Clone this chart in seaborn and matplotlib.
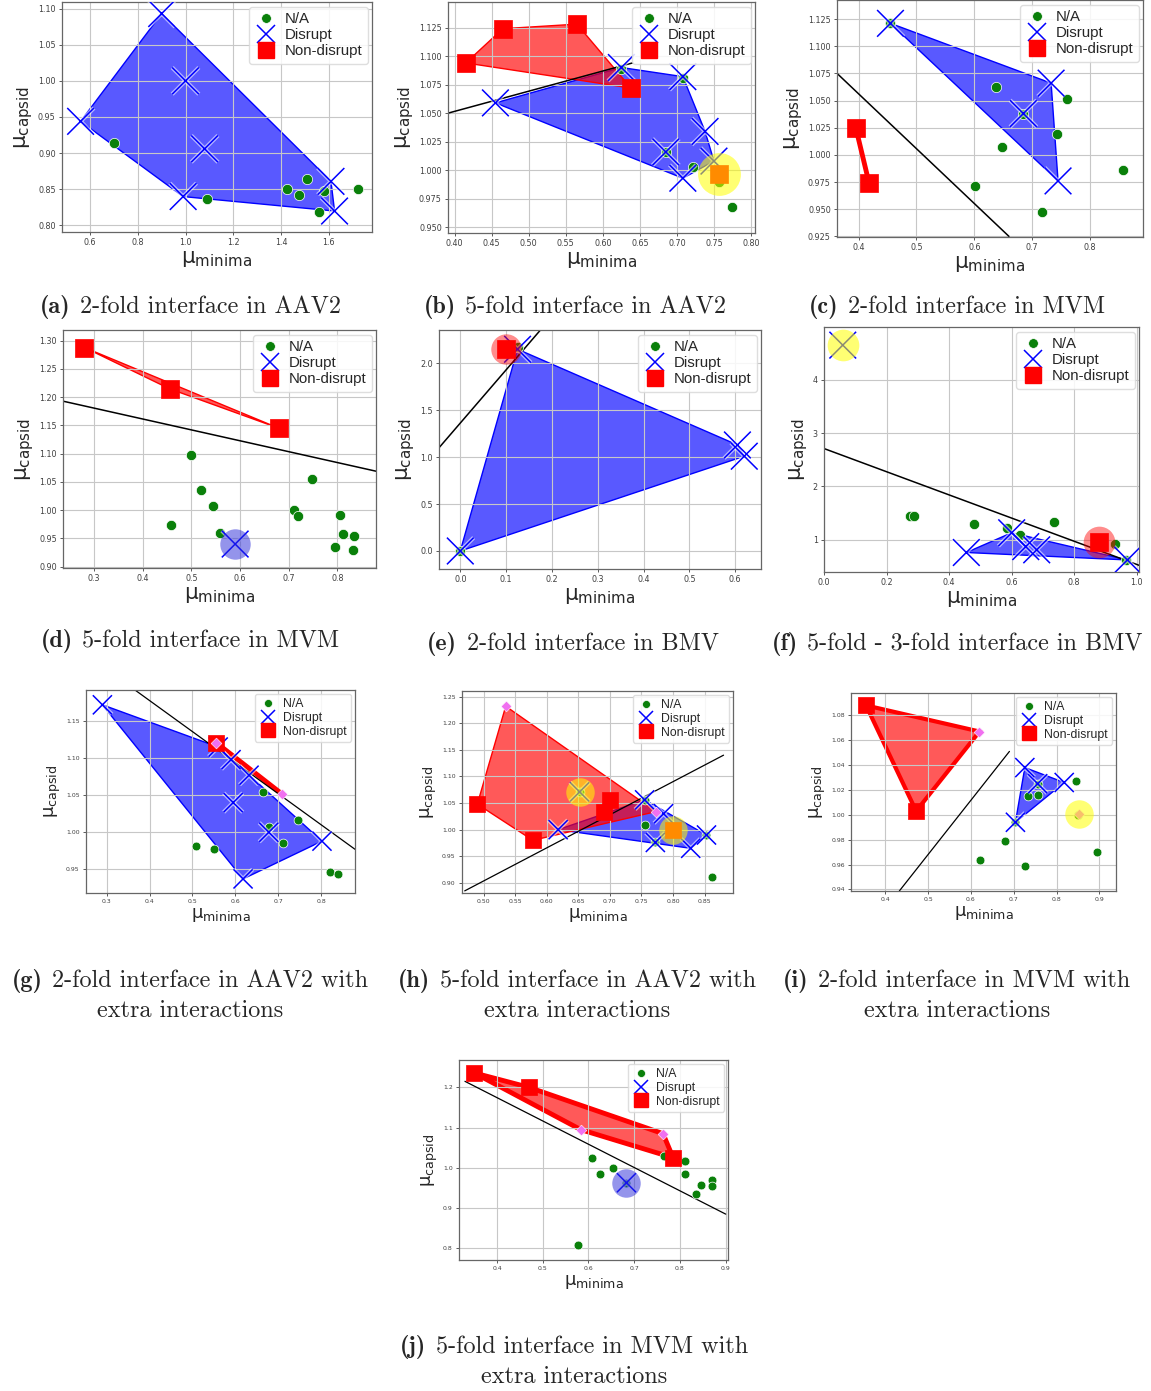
import numpy as np
import matplotlib
matplotlib.use("Agg")
import matplotlib.pyplot as plt
import matplotlib.patheffects as pe
from matplotlib.colors import to_rgba
from matplotlib.lines import Line2D
from matplotlib.ticker import FormatStrFormatter
import seaborn as sns

W, H = 1151, 1391

# ------------------------------------------------------------------
# values
# *_NA: N/A points, *_DIS: Disrupt, *_NON: Non-disrupt,
# *_EXT: extra interactions (diamonds, part of the non-disrupt hull),
# *_HL: highlighted points (kind, x, y, tone), *_SEP: separating line ends
# ------------------------------------------------------------------
A_NA = [(0.70, 0.914), (1.09, 0.837), (1.425, 0.851), (1.475, 0.842), (1.51, 0.864),
        (1.58, 0.847), (1.56, 0.818), (1.725, 0.851)]
A_DIS = [(0.90, 1.093), (0.56, 0.944), (0.99, 0.840), (1.625, 0.820), (1.61, 0.861),
         (1.00, 1.000), (1.08, 0.906)]
A_NON = []
A_EXT = []
A_HL = []
A_SEP = []

B_NA = [(0.625, 1.089), (0.708, 1.081), (0.685, 1.016), (0.722, 1.003), (0.757, 0.990),
        (0.775, 0.968)]
B_DIS = [(0.455, 1.059), (0.625, 1.090), (0.708, 1.082), (0.738, 1.034), (0.685, 1.016),
         (0.708, 0.993), (0.750, 1.008)]
B_NON = [(0.415, 1.094), (0.465, 1.124), (0.565, 1.128), (0.638, 1.072)]
B_EXT = []
B_HL = [("non", 0.757, 0.997, "yellow")]
B_SEP = [(0.391, 1.050), (0.640, 1.094)]

C_NA = [(0.455, 1.121), (0.637, 1.062), (0.685, 1.038), (0.761, 1.051), (0.744, 1.019),
        (0.648, 1.007), (0.602, 0.971), (0.718, 0.947), (0.858, 0.986)]
C_DIS = [(0.455, 1.121), (0.733, 1.066), (0.745, 0.976), (0.685, 1.038)]
C_NON = [(0.395, 1.025), (0.418, 0.974)]
C_EXT = []
C_HL = []
C_SEP = [(0.3625, 1.075), (0.660, 0.925)]

D_NA = [(0.500, 1.097), (0.520, 1.036), (0.545, 1.008), (0.458, 0.973), (0.558, 0.960),
        (0.712, 1.001), (0.720, 0.990), (0.747, 1.055), (0.805, 0.992), (0.812, 0.958),
        (0.835, 0.955), (0.795, 0.935), (0.832, 0.930)]
D_DIS = []
D_NON = [(0.280, 1.288), (0.455, 1.215), (0.680, 1.145)]
D_EXT = []
D_HL = [("dis", 0.590, 0.940, "blue")]
D_SEP = [(0.236, 1.193), (0.8796, 1.069)]

E_NA = [(0.0, 0.0), (0.125, 2.17)]
E_DIS = [(0.0, 0.0), (0.125, 2.15), (0.605, 1.13), (0.620, 1.01)]
E_NON = []
E_EXT = []
E_HL = [("non", 0.100, 2.15, "red")]
E_SEP = [(-0.0465, 1.10), (0.175, 2.355)]

F_NA = [(0.275, 1.45), (0.288, 1.45), (0.480, 1.29), (0.585, 1.22), (0.625, 1.09),
        (0.735, 1.33), (0.930, 0.91), (0.965, 0.62)]
F_DIS = [(0.455, 0.76), (0.600, 1.13), (0.645, 0.87), (0.680, 0.81), (0.970, 0.62)]
F_NON = []
F_EXT = []
F_HL = [("dis", 0.060, 4.65, "yellow"), ("non", 0.880, 0.96, "red")]
F_SEP = [(0.0, 2.71), (1.007, 0.52)]

G_NA = [(0.508, 0.982), (0.551, 0.978), (0.664, 1.054), (0.678, 1.007), (0.710, 0.985),
        (0.747, 1.016), (0.820, 0.947), (0.840, 0.944)]
G_DIS = [(0.290, 1.172), (0.618, 0.937), (0.802, 0.988), (0.560, 1.115), (0.590, 1.098),
         (0.632, 1.077), (0.595, 1.040), (0.678, 1.000)]
G_NON = [(0.555, 1.121)]
G_EXT = [(0.555, 1.121), (0.708, 1.052)]
G_HL = []
G_SEP = [(0.366, 1.192), (0.879, 0.977)]

H_NA = [(0.652, 1.071), (0.755, 1.056), (0.756, 1.008), (0.772, 0.976), (0.853, 0.990),
        (0.862, 0.911)]
H_DIS = [(0.618, 1.000), (0.755, 1.056), (0.785, 1.030), (0.772, 0.976), (0.828, 0.965),
         (0.853, 0.990)]
H_NON = [(0.490, 1.048), (0.578, 0.980), (0.690, 1.033), (0.700, 1.055)]
H_EXT = [(0.535, 1.232), (0.773, 1.034)]
H_HL = [("dis", 0.652, 1.071, "yellow"), ("non", 0.800, 1.000, "yellow")]
H_SEP = [(0.470, 0.885), (0.880, 1.140)]

I_NA = [(0.622, 0.964), (0.679, 0.979), (0.727, 0.959), (0.704, 0.994), (0.734, 1.015),
        (0.757, 1.016), (0.756, 1.025), (0.845, 1.027), (0.895, 0.970), (0.850, 1.000)]
I_DIS = [(0.726, 1.038), (0.818, 1.026), (0.704, 0.994), (0.756, 1.025)]
I_NON = [(0.355, 1.088), (0.472, 1.003)]
I_EXT = [(0.620, 1.067)]
I_HL = [("ext", 0.852, 1.001, "yellow")]
I_SEP = [(0.4327, 0.9387), (0.690, 1.051)]

J_NA = [(0.577, 0.808), (0.608, 1.025), (0.625, 0.985), (0.653, 1.000), (0.683, 0.963),
        (0.765, 1.030), (0.808, 1.017), (0.812, 1.017), (0.810, 0.984), (0.836, 0.936),
        (0.845, 0.958), (0.870, 0.970), (0.870, 0.956)]
J_DIS = []
J_NON = [(0.350, 1.236), (0.470, 1.200), (0.785, 1.025)]
J_EXT = [(0.583, 1.095), (0.763, 1.085)]
J_HL = [("dis", 0.683, 0.963, "blue")]
J_SEP = [(0.330, 1.215), (0.900, 0.885)]

CAPTIONS = {
    "a": ["2-fold interface in AAV2"],
    "b": ["5-fold interface in AAV2"],
    "c": ["2-fold interface in MVM"],
    "d": ["5-fold interface in MVM"],
    "e": ["2-fold interface in BMV"],
    "f": ["5-fold - 3-fold interface in BMV"],
    "g": ["2-fold interface in AAV2 with", "extra interactions"],
    "h": ["5-fold interface in AAV2 with", "extra interactions"],
    "i": ["2-fold interface in MVM with", "extra interactions"],
    "j": ["5-fold interface in MVM with", "extra interactions"],
}
LEGEND_LABELS = ["N/A", "Disrupt", "Non-disrupt"]

# ------------------------------------------------------------------
# layout (pixel boxes: left, top, right, bottom) and axis styling
# ------------------------------------------------------------------
PANELS = [
    dict(key="a", data=(A_NA, A_DIS, A_NON, A_EXT, A_HL, A_SEP), rect=(62, 2, 372, 232),
         xlim=(0.482, 1.782), ylim=(0.791, 1.109), xt=(0.6, 1.6, 0.2), yt=(0.80, 1.10, 0.05),
         xf="%.1f", yf="%.2f", small=False, red_lw=1.0, hl_s=0, cap=(190, 313)),
    dict(key="b", data=(B_NA, B_DIS, B_NON, B_EXT, B_HL, B_SEP), rect=(448, 2, 755, 233),
         xlim=(0.391, 0.8054), ylim=(0.945, 1.1474), xt=(0.40, 0.80, 0.05), yt=(0.950, 1.125, 0.025),
         xf="%.2f", yf="%.3f", small=False, red_lw=1.0, hl_s=950, cap=(575, 313)),
    dict(key="c", data=(C_NA, C_DIS, C_NON, C_EXT, C_HL, C_SEP), rect=(837, 0, 1143, 237),
         xlim=(0.3625, 0.892), ylim=(0.9244, 1.1425), xt=(0.4, 0.8, 0.1), yt=(0.925, 1.125, 0.025),
         xf="%.1f", yf="%.3f", small=False, red_lw=3.0, hl_s=0, cap=(957, 313)),
    dict(key="d", data=(D_NA, D_DIS, D_NON, D_EXT, D_HL, D_SEP), rect=(63, 330, 376, 568),
         xlim=(0.236, 0.8796), ylim=(0.8976, 1.319), xt=(0.3, 0.8, 0.1), yt=(0.90, 1.30, 0.05),
         xf="%.1f", yf="%.2f", small=False, red_lw=1.0, hl_s=480, cap=(190, 647)),
    dict(key="e", data=(E_NA, E_DIS, E_NON, E_EXT, E_HL, E_SEP), rect=(439, 330, 761, 569),
         xlim=(-0.0465, 0.6565), ylim=(-0.192, 2.355), xt=(0.0, 0.6, 0.1), yt=(0.0, 2.0, 0.5),
         xf="%.1f", yf="%.1f", small=False, red_lw=1.0, hl_s=480, cap=(573, 650)),
    dict(key="f", data=(F_NA, F_DIS, F_NON, F_EXT, F_HL, F_SEP), rect=(824, 327, 1139, 572),
         xlim=(0.0, 1.007), ylim=(0.394, 4.99), xt=(0.0, 1.0, 0.2), yt=(1, 4, 1),
         xf="%.1f", yf="%d", small=False, red_lw=1.0, hl_s=520, cap=(957, 650)),
    dict(key="g", data=(G_NA, G_DIS, G_NON, G_EXT, G_HL, G_SEP), rect=(86, 690, 355, 893),
         xlim=(0.2518, 0.879), ylim=(0.918, 1.192), xt=(0.3, 0.8, 0.1), yt=(0.95, 1.15, 0.05),
         xf="%.1f", yf="%.2f", small=True, red_lw=3.0, hl_s=0, cap=(190, 987)),
    dict(key="h", data=(H_NA, H_DIS, H_NON, H_EXT, H_HL, H_SEP), rect=(462, 691, 733, 893),
         xlim=(0.4657, 0.895), ylim=(0.881, 1.2606), xt=(0.50, 0.85, 0.05), yt=(0.90, 1.25, 0.05),
         xf="%.2f", yf="%.2f", small=True, red_lw=1.0, hl_s=420, cap=(577, 987)),
    dict(key="i", data=(I_NA, I_DIS, I_NON, I_EXT, I_HL, I_SEP), rect=(851, 693, 1116, 891),
         xlim=(0.3198, 0.939), ylim=(0.9387, 1.098), xt=(0.4, 0.9, 0.1), yt=(0.94, 1.08, 0.02),
         xf="%.1f", yf="%.2f", small=True, red_lw=3.0, hl_s=420, cap=(957, 987)),
    dict(key="j", data=(J_NA, J_DIS, J_NON, J_EXT, J_HL, J_SEP), rect=(459, 1060, 728, 1260),
         xlim=(0.317, 0.905), ylim=(0.771, 1.268), xt=(0.4, 0.9, 0.1), yt=(0.8, 1.2, 0.1),
         xf="%.1f", yf="%.1f", small=True, red_lw=3.5, hl_s=420, cap=(574, 1353)),
]

TONES = {"yellow": ("#ffff00", 0.55), "red": ("#ff0000", 0.45), "blue": ("#2a2ad8", 0.5)}
GREEN, BLUE, RED, VIOLET = "#0a800a", "#0000ff", "#ff0000", "#f070f0"


def convex_hull(pts):
    pts = sorted(set(pts))
    if len(pts) < 3:
        return pts

    def cross(o, a, b):
        return (a[0] - o[0]) * (b[1] - o[1]) - (a[1] - o[1]) * (b[0] - o[0])

    lower, upper = [], []
    for p in pts:
        while len(lower) >= 2 and cross(lower[-2], lower[-1], p) <= 0:
            lower.pop()
        lower.append(p)
    for p in reversed(pts):
        while len(upper) >= 2 and cross(upper[-2], upper[-1], p) <= 0:
            upper.pop()
        upper.append(p)
    return lower[:-1] + upper[:-1]


def draw_hull(ax, pts, color, lw):
    hull = convex_hull(pts)
    if len(hull) >= 3:
        xs, ys = zip(*hull)
        ax.fill(xs, ys, facecolor=to_rgba(color, 0.65), edgecolor=color, linewidth=lw, zorder=1)
    elif len(hull) == 2:
        xs, ys = zip(*hull)
        ax.plot(xs, ys, color=color, linewidth=lw + 0.5, zorder=2, solid_capstyle="round")


def draw_panel(fig, p):
    na, dis, non, ext, hl, sep = p["data"]
    l, t, r, b = p["rect"]
    ax = fig.add_axes([l / W, 1 - b / H, (r - l) / W, (b - t) / H])
    small = p["small"]
    sz = dict(na=40 if small else 55, dis=190 if small else 370, non=120 if small else 175, ext=30)

    draw_hull(ax, dis, BLUE, 1.0)
    draw_hull(ax, non + ext, RED, p["red_lw"])
    if sep:
        sx, sy = zip(*sep)
        ax.plot(sx, sy, color="black", linewidth=1.1 if not small else 0.9, zorder=2)

    na_all = na + [(x, y) for k, x, y, _ in hl if k == "na"]
    dis_all = dis + [(x, y) for k, x, y, _ in hl if k == "dis"]
    non_all = non + [(x, y) for k, x, y, _ in hl if k == "non"]
    ext_all = ext + [(x, y) for k, x, y, _ in hl if k == "ext"]

    if na_all:
        sns.scatterplot(x=[q[0] for q in na_all], y=[q[1] for q in na_all], ax=ax, color=GREEN,
                        s=sz["na"], edgecolor="white", linewidth=0.5, zorder=3)
    if dis_all:
        sns.scatterplot(x=[q[0] for q in dis_all], y=[q[1] for q in dis_all], ax=ax, color=BLUE,
                        marker="x", s=sz["dis"], linewidth=1.1, zorder=3)
        ax.collections[-1].set_path_effects(
            [pe.Stroke(linewidth=3.0, foreground="white", alpha=0.55), pe.Normal()])
    if non_all:
        sns.scatterplot(x=[q[0] for q in non_all], y=[q[1] for q in non_all], ax=ax, color=RED,
                        marker="s", s=sz["non"], edgecolor=RED, linewidth=0.5, zorder=3)
    if ext_all:
        sns.scatterplot(x=[q[0] for q in ext_all], y=[q[1] for q in ext_all], ax=ax, color=VIOLET,
                        marker="D", s=sz["ext"], edgecolor="white", linewidth=0.4, zorder=4)
    for k, x, y, tone in hl:
        c, a = TONES[tone]
        ax.scatter([x], [y], s=p["hl_s"], color=c, alpha=a, linewidth=0, zorder=5)

    ax.set_xlim(*p["xlim"])
    ax.set_ylim(*p["ylim"])
    x0, x1, dx = p["xt"]
    y0, y1, dy = p["yt"]
    ax.set_xticks(np.arange(x0, x1 + dx / 2, dx))
    ax.set_yticks(np.arange(y0, y1 + dy / 2, dy))
    ax.xaxis.set_major_formatter(FormatStrFormatter(p["xf"]))
    ax.yaxis.set_major_formatter(FormatStrFormatter(p["yf"]))
    ax.tick_params(labelsize=4.4 if small else 5.8, colors="0.25", length=2.5, width=0.6, pad=2)

    lab_fs = 13 if small else 15.5
    ax.set_xlabel(r"$\mathrm{\mu_{minima}}$", fontsize=lab_fs, labelpad=1)
    ax.set_ylabel(r"$\mathrm{\mu_{capsid}}$", fontsize=lab_fs, labelpad=2)

    leg_fs = 8.8 if small else 10.8
    k = 0.82 if small else 1.0
    handles = [
        Line2D([], [], ls="", marker="o", color=GREEN, markersize=7 * k, markeredgecolor="white",
               markeredgewidth=0.5),
        Line2D([], [], ls="", marker="x", color=BLUE, markersize=13 * k, markeredgewidth=1.1),
        Line2D([], [], ls="", marker="s", color=RED, markersize=12 * k),
    ]
    ax.legend(handles, LEGEND_LABELS, loc="upper right", frameon=True,
              prop={"family": ["Liberation Sans", "DejaVu Sans"], "size": leg_fs},
              framealpha=0.85, edgecolor="0.85", borderpad=0.35, labelspacing=0.15,
              handletextpad=0.5, handlelength=1.5, borderaxespad=0.3, fancybox=True)
    return ax


def caption(fig, renderer, cx, cy, tag, lines, fs=17.4):
    t1 = fig.text(0, 1 - cy / H, tag, fontfamily="cmb10", fontsize=fs, va="baseline")
    t2 = fig.text(0, 1 - cy / H, lines[0], fontfamily="cmr10", fontsize=fs, va="baseline")
    w1 = t1.get_window_extent(renderer).width
    w2 = t2.get_window_extent(renderer).width
    gap = fs * 0.55
    x0 = cx - (w1 + gap + w2) / 2
    t1.set_x(x0 / W)
    t2.set_x((x0 + w1 + gap) / W)
    if len(lines) > 1:
        fig.text(cx / W, 1 - (cy + 30) / H, lines[1], fontfamily="cmr10", fontsize=fs,
                 ha="center", va="baseline")


sns.set_theme(style="whitegrid", rc={
    "axes.edgecolor": "0.4",
    "axes.linewidth": 0.9,
    "grid.color": "0.78",
    "grid.linewidth": 0.8,
    "axes.axisbelow": "line",
    "xtick.bottom": True,
    "ytick.left": True,
})
plt.rcParams["font.family"] = ["DejaVu Sans"]
plt.rcParams["mathtext.fontset"] = "dejavusans"

fig = plt.figure(figsize=(W / 100, H / 100), dpi=100)
fig.patch.set_facecolor("white")

for p in PANELS:
    draw_panel(fig, p)

renderer = fig.canvas.get_renderer()
for p in PANELS:
    cx, cy = p["cap"]
    caption(fig, renderer, cx, cy, "(%s)" % p["key"], CAPTIONS[p["key"]])

fig.savefig("out.png", dpi=100, facecolor="white")
